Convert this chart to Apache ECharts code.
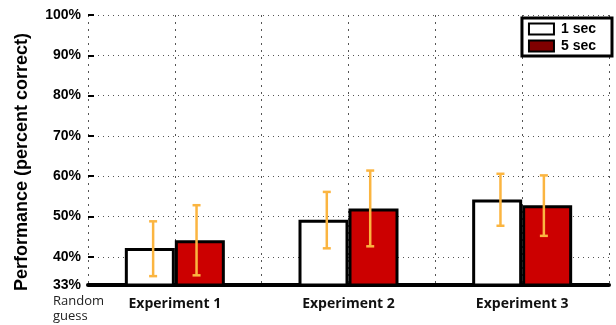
<!DOCTYPE html>
<html>
<head>
<meta charset="utf-8">
<script src="https://cdn.jsdelivr.net/npm/echarts@6/dist/echarts.min.js"></script>
<style>
html,body{margin:0;padding:0;background:#fff;}
#chart{width:616px;height:325px;}
</style>
</head>
<body>
<div id="chart"></div>
<script>
var categories = ['Experiment 1', 'Experiment 2', 'Experiment 3'];
var seriesNames = ['1 sec', '5 sec'];
var oneSec = [42.2, 49.2, 54.2];
var fiveSec = [44.1, 52.0, 52.8];
var oneSecLow = [35.2, 42.1, 47.7];
var oneSecHigh = [48.8, 56.1, 60.6];
var fiveSecLow = [35.4, 42.6, 45.2];
var fiveSecHigh = [52.8, 61.4, 60.2];
var yTicks = [33, 40, 50, 60, 70, 80, 90, 100];
var halfSlots = ['a', 'b', 'c', 'd', 'e', 'f'];

var chart = echarts.init(document.getElementById('chart'), null, {renderer: 'canvas'});

function errData(low, high) {
  return categories.map(function (c, i) { return [i, low[i], high[i]]; });
}

function errRender(side) {
  return function (params, api) {
    var i = api.value(0);
    var top = api.coord([i, api.value(2)]);
    var bot = api.coord([i, api.value(1)]);
    var w = api.size([1, 0])[0];
    var x = top[0] + side * w * 0.125;
    var cap = 4;
    var st = {stroke: '#FBB540', lineWidth: 2.5, fill: null};
    return {
      type: 'group',
      children: [
        {type: 'line', shape: {x1: x, y1: top[1], x2: x, y2: bot[1]}, style: st},
        {type: 'line', shape: {x1: x - cap, y1: top[1], x2: x + cap, y2: top[1]}, style: st},
        {type: 'line', shape: {x1: x - cap, y1: bot[1], x2: x + cap, y2: bot[1]}, style: st}
      ]
    };
  };
}

var option = {
  animation: false,
  backgroundColor: '#fff',
  grid: {left: 88, right: 7, top: 15, bottom: 40, containLabel: false},
  legend: {
    orient: 'vertical',
    right: 4,
    top: 18,
    padding: [4, 16, 3, 6],
    itemGap: 3,
    itemWidth: 25,
    itemHeight: 11,
    backgroundColor: '#fff',
    borderColor: '#000',
    borderWidth: 3,
    borderRadius: 0,
    textStyle: {fontFamily: 'Liberation Sans, Arial', fontWeight: 'bold', fontSize: 14, color: '#000', padding: [0, 0, 0, 2]},
    itemStyle: {borderColor: '#000', borderWidth: 2},
    data: [
      {name: seriesNames[0], icon: 'rect', itemStyle: {color: '#fff', borderColor: '#000', borderWidth: 2}},
      {name: seriesNames[1], icon: 'rect', itemStyle: {color: '#800000', borderColor: '#000', borderWidth: 2}}
    ]
  },
  xAxis: [
    {
      type: 'category',
      data: categories,
      position: 'bottom',
      axisLine: {show: true, lineStyle: {color: '#000', width: 4}},
      axisTick: {show: false},
      splitLine: {show: false},
      axisLabel: {fontFamily: 'Open Sans', fontWeight: 'bold', fontSize: 14, color: '#111', margin: 12}
    },
    {
      type: 'category',
      data: halfSlots,
      position: 'bottom',
      show: true,
      axisLine: {show: false},
      axisTick: {show: false},
      axisLabel: {show: false},
      splitLine: {show: true, lineStyle: {color: '#555', width: 1, type: [2, 5]}}
    }
  ],
  yAxis: {
    type: 'value',
    min: 33,
    max: 100,
    axisLine: {show: false},
    axisTick: {show: true, inside: true, length: 6, customValues: yTicks, lineStyle: {color: '#000', width: 2}},
    axisLabel: {
      customValues: yTicks,
      formatter: function (v) { return v + '%'; },
      fontFamily: 'Liberation Sans, Arial',
      fontWeight: 'bold',
      fontSize: 14,
      color: '#000',
      margin: 7
    },
    splitLine: {show: true, lineStyle: {color: '#555', width: 1, type: [1, 4]}}
  },
  series: [
    {
      name: seriesNames[0],
      type: 'bar',
      data: oneSec,
      barWidth: 50,
      barGap: '0%',
      itemStyle: {color: '#fff', borderColor: '#000', borderWidth: 3},
      z: 3
    },
    {
      name: seriesNames[1],
      type: 'bar',
      data: fiveSec,
      barWidth: 50,
      barGap: '0%',
      itemStyle: {color: '#CC0000', borderColor: '#000', borderWidth: 3},
      z: 3
    },
    {
      name: 'err1',
      type: 'custom',
      data: errData(oneSecLow, oneSecHigh),
      renderItem: errRender(-1),
      z: 10
    },
    {
      name: 'err5',
      type: 'custom',
      data: errData(fiveSecLow, fiveSecHigh),
      renderItem: errRender(1),
      z: 10
    }
  ],
  graphic: [
    {
      type: 'text',
      x: 22,
      y: 162,
      rotation: Math.PI / 2,
      style: {
        text: 'Performance (percent correct)',
        font: 'bold 18px "Liberation Sans", Arial',
        fill: '#000',
        textAlign: 'center',
        textVerticalAlign: 'middle'
      }
    },
    {
      type: 'text',
      x: 53,
      y: 294,
      style: {
        text: 'Random\nguess',
        font: '13px "Open Sans"',
        lineHeight: 15,
        fill: '#222',
        textAlign: 'left',
        textVerticalAlign: 'top'
      }
    }
  ]
};

chart.setOption(option);
</script>
</body>
</html>
